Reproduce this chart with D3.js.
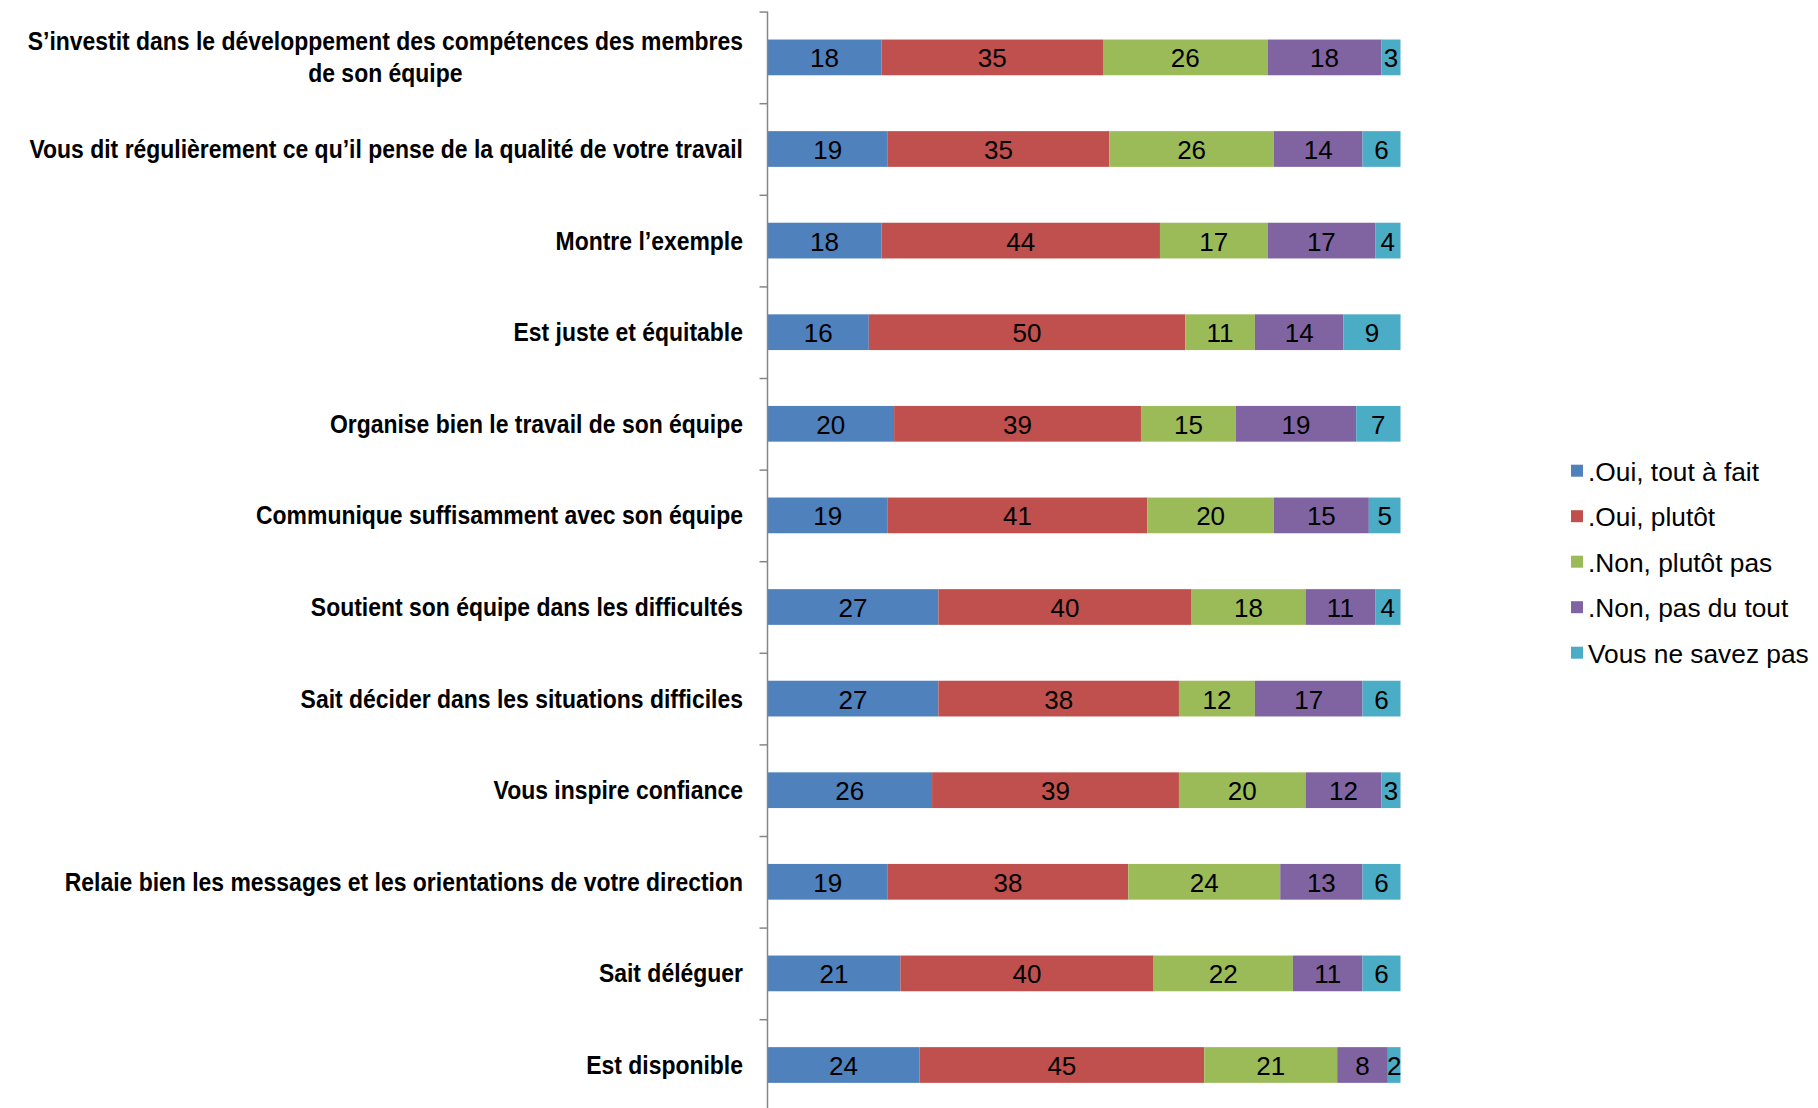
<!DOCTYPE html>
<html lang="fr">
<head>
<meta charset="utf-8">
<script src="https://cdn.jsdelivr.net/npm/d3@7"></script>
<style>
  html, body { margin: 0; padding: 0; background: #fff; }
  svg { display: block; }
</style>
</head>
<body>
<svg id="chart" width="1818" height="1108"></svg>
<script>
// Statements about the manager, top to bottom
const categories = [
  "S\u2019investit dans le développement des compétences des membres de son équipe",
  "Vous dit régulièrement ce qu\u2019il pense de la qualité de votre travail",
  "Montre l\u2019exemple",
  "Est juste et équitable",
  "Organise bien le travail de son équipe",
  "Communique suffisamment avec son équipe",
  "Soutient son équipe dans les difficultés",
  "Sait décider dans les situations difficiles",
  "Vous inspire confiance",
  "Relaie bien les messages et les orientations de votre direction",
  "Sait déléguer",
  "Est disponible"
];

// Answer categories (legend order)
const seriesNames = [".Oui, tout à fait", ".Oui, plutôt", ".Non, plutôt pas", ".Non, pas du tout", "Vous ne savez pas"];

// Percentages per answer, one value per statement
const ouiToutAFait  = [18, 19, 18, 16, 20, 19, 27, 27, 26, 19, 21, 24];
const ouiPlutot     = [35, 35, 44, 50, 39, 41, 40, 38, 39, 38, 40, 45];
const nonPlutotPas  = [26, 26, 17, 11, 15, 20, 18, 12, 20, 24, 22, 21];
const nonPasDuTout  = [18, 14, 17, 14, 19, 15, 11, 17, 12, 13, 11,  8];
const neSaitPas     = [ 3,  6,  4,  9,  7,  5,  4,  6,  3,  6,  6,  2];

const seriesValues = [ouiToutAFait, ouiPlutot, nonPlutotPas, nonPasDuTout, neSaitPas];
const colors = ["#4F81BD", "#C0504D", "#9BBB59", "#8064A2", "#4BACC6"];

const svg = d3.select("#chart");

// Layout
const axisX = 767.5, plotRight = 1400.5;
const plotTop = 11.6, step = 91.6;
const plotBottom = plotTop + step * categories.length;

const x = d3.scaleLinear().domain([0, 100]).range([axisX, plotRight]);
const y = d3.scaleBand().domain(categories).range([plotTop, plotBottom])
  .paddingInner(0.61).paddingOuter(0.305);
const yIdx = d3.scaleLinear().domain([0, categories.length]).range([plotTop, plotBottom]);

// Build stacked rows
const rows = categories.map((c, i) => {
  const r = { cat: c };
  seriesNames.forEach((s, k) => r[s] = seriesValues[k][i]);
  return r;
});
const stacked = d3.stack().keys(seriesNames)(rows);

// Bars
const layer = svg.append("g").selectAll("g")
  .data(stacked).join("g")
  .attr("fill", (d, k) => colors[k]);

layer.selectAll("rect")
  .data(d => d)
  .join("rect")
  .attr("x", d => x(d[0]))
  .attr("y", d => y(d.data.cat))
  .attr("width", d => x(d[1]) - x(d[0]))
  .attr("height", y.bandwidth());

// Value labels
layer.selectAll("text")
  .data(d => d)
  .join("text")
  .attr("x", d => (x(d[0]) + x(d[1])) / 2)
  .attr("y", d => y(d.data.cat) + y.bandwidth() / 2 + 1)
  .attr("text-anchor", "middle")
  .attr("dominant-baseline", "central")
  .attr("font-family", "'Liberation Sans', Arial, sans-serif")
  .attr("font-size", 26)
  .attr("fill", "#000")
  .text(d => d[1] - d[0]);

// Vertical category axis with ticks between categories
const axisG = svg.append("g")
  .attr("transform", `translate(${axisX},0)`)
  .call(d3.axisLeft(yIdx).tickValues(d3.range(0, categories.length + 1)).tickSize(8).tickFormat(""));
axisG.select(".domain").attr("stroke", "#868686").attr("stroke-width", 1.5)
  .attr("d", `M0,${plotTop}V${plotBottom}`);
axisG.selectAll(".tick line").attr("stroke", "#868686").attr("stroke-width", 1.5);

// Category labels, right-aligned next to the axis, wrapped when too long.
// The bold face is condensed horizontally to get a narrow look.
const labelRight = 743, maxWidth = 738, lineH = 32, squeeze = 0.9;
const labels = svg.append("g")
  .attr("transform", `translate(${labelRight},0) scale(${squeeze},1)`)
  .attr("font-family", "'Liberation Sans', Arial, sans-serif")
  .attr("font-weight", "bold")
  .attr("font-size", 25.5)
  .attr("fill", "#000");

const measure = labels.append("text").attr("visibility", "hidden");
function width(s) { measure.text(s); return measure.node().getComputedTextLength() * squeeze; }

categories.forEach(c => {
  const words = c.split(" ");
  const lines = [];
  let cur = "";
  words.forEach(w => {
    const t = cur ? cur + " " + w : w;
    if (cur && width(t) > maxWidth) { lines.push(cur); cur = w; } else cur = t;
  });
  lines.push(cur);
  const cy = y(c) + y.bandwidth() / 2;
  const blockW = d3.max(lines, width);
  lines.forEach((ln, j) => {
    labels.append("text")
      .attr("x", lines.length > 1 ? -blockW / 2 / squeeze : 0)
      .attr("y", cy + (j - (lines.length - 1) / 2) * lineH)
      .attr("text-anchor", lines.length > 1 ? "middle" : "end")
      .attr("dominant-baseline", "central")
      .text(ln);
  });
});
measure.remove();

// Legend
const legend = svg.append("g")
  .attr("font-family", "'Liberation Sans', Arial, sans-serif")
  .attr("font-size", 26.3);
seriesNames.forEach((s, k) => {
  const ly = 470.7 + k * 45.5;
  legend.append("rect").attr("x", 1571).attr("y", ly - 6).attr("width", 12).attr("height", 12).attr("fill", colors[k]);
  legend.append("text").attr("x", 1588).attr("y", ly + 1)
    .attr("dominant-baseline", "central").attr("fill", "#000").text(s);
});
</script>
</body>
</html>
